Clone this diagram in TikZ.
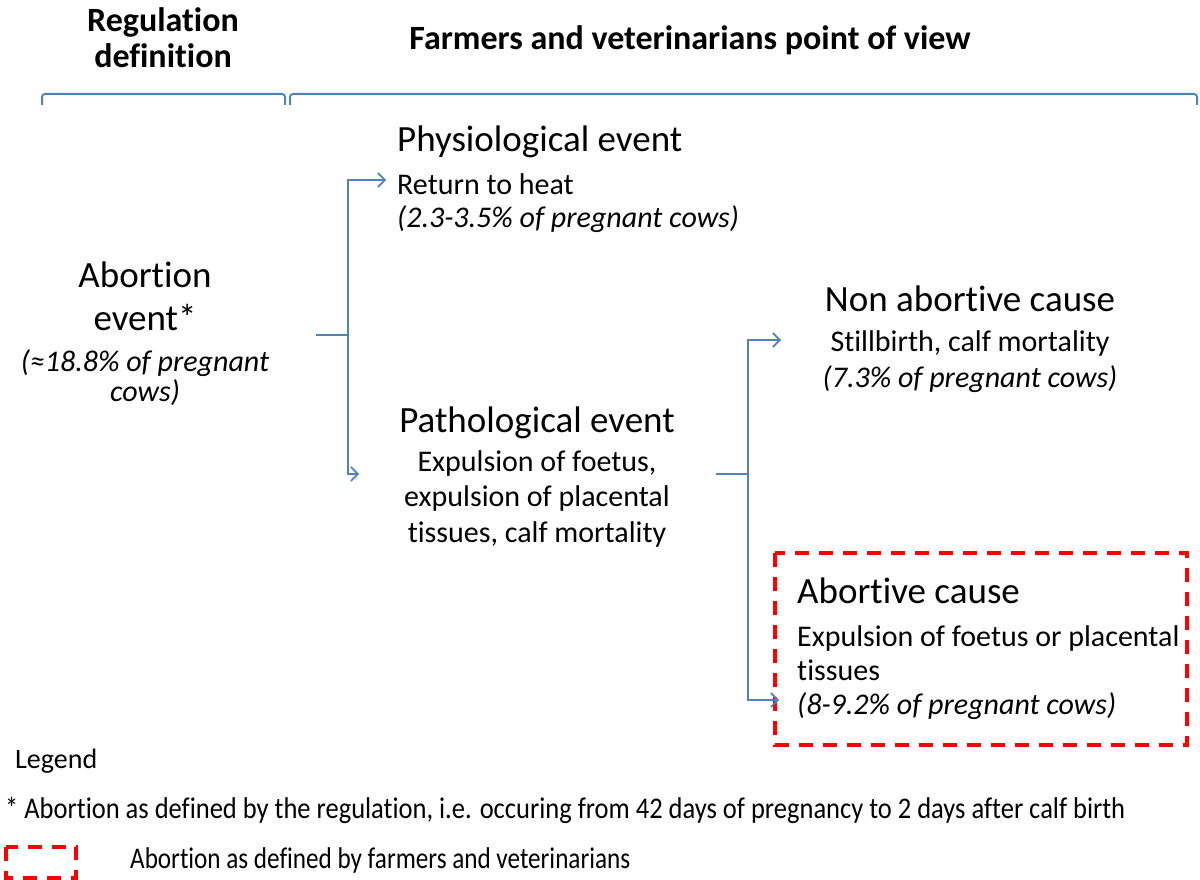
\documentclass[tikz,border=0pt]{standalone}
\usepackage{fontspec}
\setmainfont{Carlito}[Ligatures=NoCommon]
\usetikzlibrary{arrows.meta}
\definecolor{lineblue}{RGB}{79,129,189}
\definecolor{boxred}{RGB}{255,0,0}
\begin{document}
\begin{tikzpicture}[x=1pt,y=-1pt,
  conn/.style={draw=lineblue,line width=1.6pt},
  arr/.style={conn,-{Straight Barb[length=7pt,width=14pt]}},
  bracketline/.style={draw=lineblue,line width=2pt,rounded corners=3pt},
  head/.style={font=\fontsize{37}{43}\selectfont,inner sep=0pt},
  body/.style={font=\fontsize{30}{36}\selectfont,inner sep=0pt},
  bodyit/.style={font=\fontsize{30}{36}\selectfont\itshape,inner sep=0pt},
  title/.style={font=\fontsize{34}{36}\selectfont\bfseries,inner sep=0pt,align=center},
  dashbox/.style={draw=boxred,line width=4pt,dash pattern=on 14pt off 10pt},
  legendtxt/.style={font=\fontsize{30}{34}\selectfont,inner sep=0pt}]
\useasboundingbox (0,0) rectangle (1200,880);

% titles
\node[title] (reg) at (163,38) {Regulation\\definition};
\node[title,anchor=base] (farm) at (690,50) {Farmers and veterinarians point of view};
\draw[bracketline] (42,105) -- (42,94) -- (285,94) -- (285,105);
\draw[bracketline] (290,105) -- (290,94) -- (1197,94) -- (1197,105);

% abortion event
\node[head,anchor=base] (ab1) at (145,287) {Abortion};
\node[head,anchor=base] (ab2) at (145,330) {event*};
\node[bodyit,anchor=base] (ab3) at (145,371) {(≈18.8\% of pregnant};
\node[bodyit,anchor=base] (ab4) at (145,401) {cows)};

% physiological
\node[head,anchor=base west] (ph1) at (397,152) {Physiological event};
\node[body,anchor=base west] (ph2) at (397,194) {Return to heat};
\node[bodyit,anchor=base west] (ph3) at (397,227) {(2.3-3.5\% of pregnant cows)};

% pathological
\node[head,anchor=base] (pa1) at (537,432) {Pathological event};
\node[body,anchor=base] (pa2) at (537,471) {Expulsion of foetus,};
\node[body,anchor=base] (pa3) at (537,506) {expulsion of placental};
\node[body,anchor=base] (pa4) at (537,542) {tissues, calf mortality};

% non abortive
\node[head,anchor=base] (na1) at (970,311) {Non abortive cause};
\node[body,anchor=base] (na2) at (970,351) {Stillbirth, calf mortality};
\node[bodyit,anchor=base] (na3) at (970,387) {(7.3\% of pregnant cows)};

% abortive
\node[draw=none,minimum width=412pt,minimum height=192pt,anchor=north west] (box) at (775,553) {};
\draw[dashbox] (box.north west) rectangle (box.south east);
\node[head,anchor=base west] (ac1) at (797,603) {Abortive cause};
\node[body,anchor=base west] (ac2) at (797,646) {Expulsion of foetus or placental};
\node[body,anchor=base west] (ac3) at (797,680) {tissues};
\node[bodyit,anchor=base west] (ac4) at (797,714) {(8-9.2\% of pregnant cows)};

% connectors
\coordinate (s1) at (316,335);
\coordinate (j1) at (348,335);
\coordinate (t1) at (386,180);
\coordinate (t2) at (359,474);
\draw[conn] (s1) -- (j1);
\draw[arr] (j1) |- (t1);
\draw[arr] (j1) |- (t2);
\coordinate (s2) at (716,474);
\coordinate (j2) at (748,474);
\coordinate (t3) at (781,340);
\coordinate (t4) at (779,700);
\draw[conn] (s2) -- (j2);
\draw[arr] (j2) |- (t3);
\draw[arr] (j2) |- (t4);

% legend
\node[legendtxt,anchor=base west] (lg) at (15,768) {\fontsize{28}{34}\selectfont Legend};
\node[legendtxt,anchor=base west] (lg1) at (5,818) {\resizebox{1120pt}{\height}{* Abortion as defined by the regulation, i.e. occuring from 42 days of pregnancy to 2 days after calf birth}};
\node[draw=none,minimum width=70pt,minimum height=31pt,anchor=north west] (lgbox) at (6,847) {};
\draw[dashbox] (lgbox.north west) rectangle (lgbox.south east);
\node[legendtxt,anchor=base west] (lg2) at (130,868) {\resizebox{500pt}{\height}{Abortion as defined by farmers and veterinarians}};
\end{tikzpicture}
\end{document}
